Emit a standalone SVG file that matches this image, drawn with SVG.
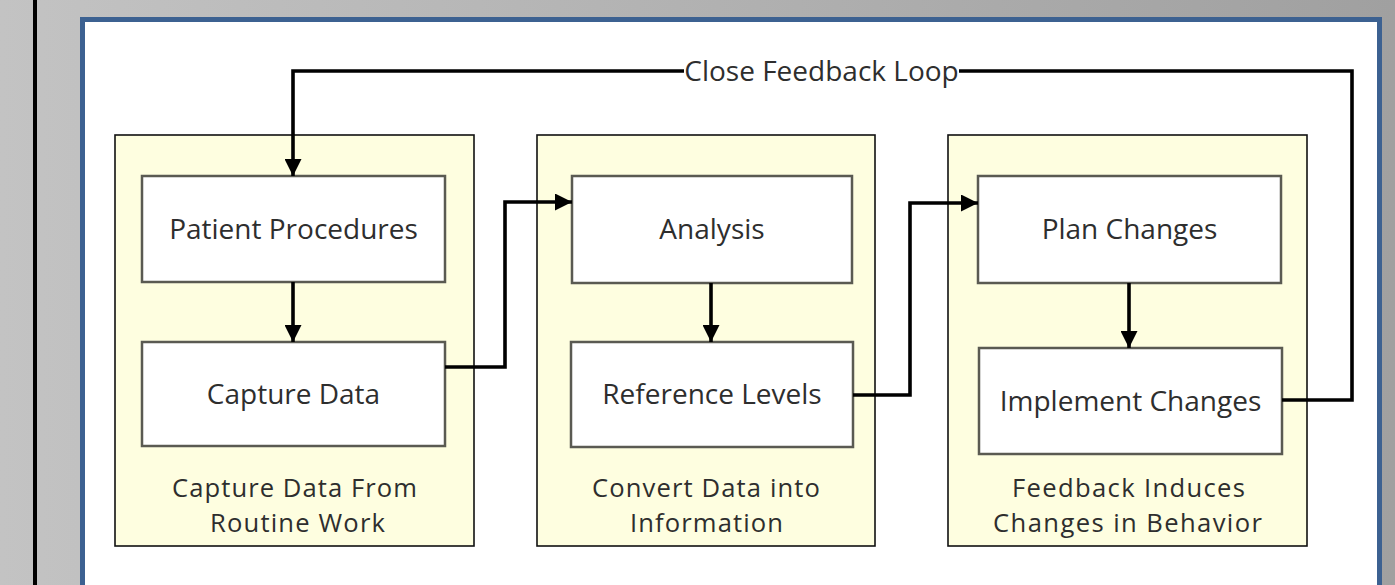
<svg xmlns="http://www.w3.org/2000/svg" width="1395" height="585" viewBox="0 0 1395 585">
  <defs>
    <linearGradient id="bg" x1="0" y1="0" x2="1" y2="0">
      <stop offset="0" stop-color="#c3c3c3"/>
      <stop offset="1" stop-color="#a0a0a0"/>
    </linearGradient>
    <marker id="arrow" viewBox="0 0 16 16" refX="16" refY="8" markerWidth="17" markerHeight="17" markerUnits="userSpaceOnUse" orient="auto">
      <path d="M0,0 L16,8 L0,16 Z" fill="#000"/>
    </marker>
  </defs>
  <style>
    .group { fill: #fefee0; stroke: #111; stroke-width: 1.6; }
    .box { fill: #ffffff; stroke: #5a5a52; stroke-width: 2.5; }
    .label { font-family: "Open Sans", "Liberation Sans", sans-serif; font-size: 28px; fill: #2e2e2e; text-anchor: middle; }
    .caption { font-family: "Open Sans", "Liberation Sans", sans-serif; font-size: 25.6px; fill: #2e2e2e; text-anchor: middle; }
    .wire { fill: none; stroke: #000; stroke-width: 3.6; stroke-linejoin: miter; }
  </style>

  <!-- backdrop and frame -->
  <rect x="0" y="0" width="1395" height="585" fill="url(#bg)"/>
  <rect x="33" y="-5" width="4" height="600" fill="#000"/>
  <rect x="82.5" y="19.5" width="1297" height="600" fill="#ffffff" stroke="#3c6191" stroke-width="5"/>

  <!-- stage groups -->
  <g id="stage-capture">
    <rect class="group" x="115" y="135" width="359" height="411"/>
    <text class="caption" x="294.5" y="497" textLength="245" lengthAdjust="spacing">Capture Data From</text>
    <text class="caption" x="297.5" y="532" textLength="175" lengthAdjust="spacing">Routine Work</text>
  </g>
  <g id="stage-convert">
    <rect class="group" x="537" y="135" width="338" height="411"/>
    <text class="caption" x="706" y="497" textLength="228" lengthAdjust="spacing">Convert Data into</text>
    <text class="caption" x="706.5" y="532" textLength="153" lengthAdjust="spacing">Information</text>
  </g>
  <g id="stage-feedback">
    <rect class="group" x="948" y="135" width="359" height="411"/>
    <text class="caption" x="1128.5" y="497" textLength="233" lengthAdjust="spacing">Feedback Induces</text>
    <text class="caption" x="1127.5" y="532" textLength="269" lengthAdjust="spacing">Changes in Behavior</text>
  </g>

  <!-- process nodes -->
  <g id="patient-procedures">
    <rect class="box" x="142" y="176" width="303" height="106"/>
    <text class="label" x="293.5" y="239">Patient Procedures</text>
  </g>
  <g id="capture-data">
    <rect class="box" x="142" y="342" width="303" height="104"/>
    <text class="label" x="293.5" y="404">Capture Data</text>
  </g>
  <g id="analysis">
    <rect class="box" x="572" y="176" width="280" height="107"/>
    <text class="label" x="712" y="239">Analysis</text>
  </g>
  <g id="reference-levels">
    <rect class="box" x="571" y="342" width="282" height="105"/>
    <text class="label" x="712" y="404">Reference Levels</text>
  </g>
  <g id="plan-changes">
    <rect class="box" x="978" y="176" width="303" height="107"/>
    <text class="label" x="1129.5" y="239">Plan Changes</text>
  </g>
  <g id="implement-changes">
    <rect class="box" x="979" y="348" width="303" height="106"/>
    <text class="label" x="1130.5" y="411">Implement Changes</text>
  </g>

  <!-- connectors -->
  <g id="connectors">
    <path class="wire" d="M293,282 L293,342" marker-end="url(#arrow)"/>
    <path class="wire" d="M445,367 L505,367 L505,202 L572,202" marker-end="url(#arrow)"/>
    <path class="wire" d="M711,283 L711,342" marker-end="url(#arrow)"/>
    <path class="wire" d="M853,395 L910,395 L910,203 L978,203" marker-end="url(#arrow)"/>
    <path class="wire" d="M1129,283 L1129,348" marker-end="url(#arrow)"/>
    <path class="wire" d="M1282,400 L1352,400 L1352,71 L293,71 L293,176" marker-end="url(#arrow)"/>
    <rect x="684" y="56" width="275" height="30" fill="#ffffff"/>
    <text class="label" x="821.5" y="81">Close Feedback Loop</text>
  </g>
</svg>
